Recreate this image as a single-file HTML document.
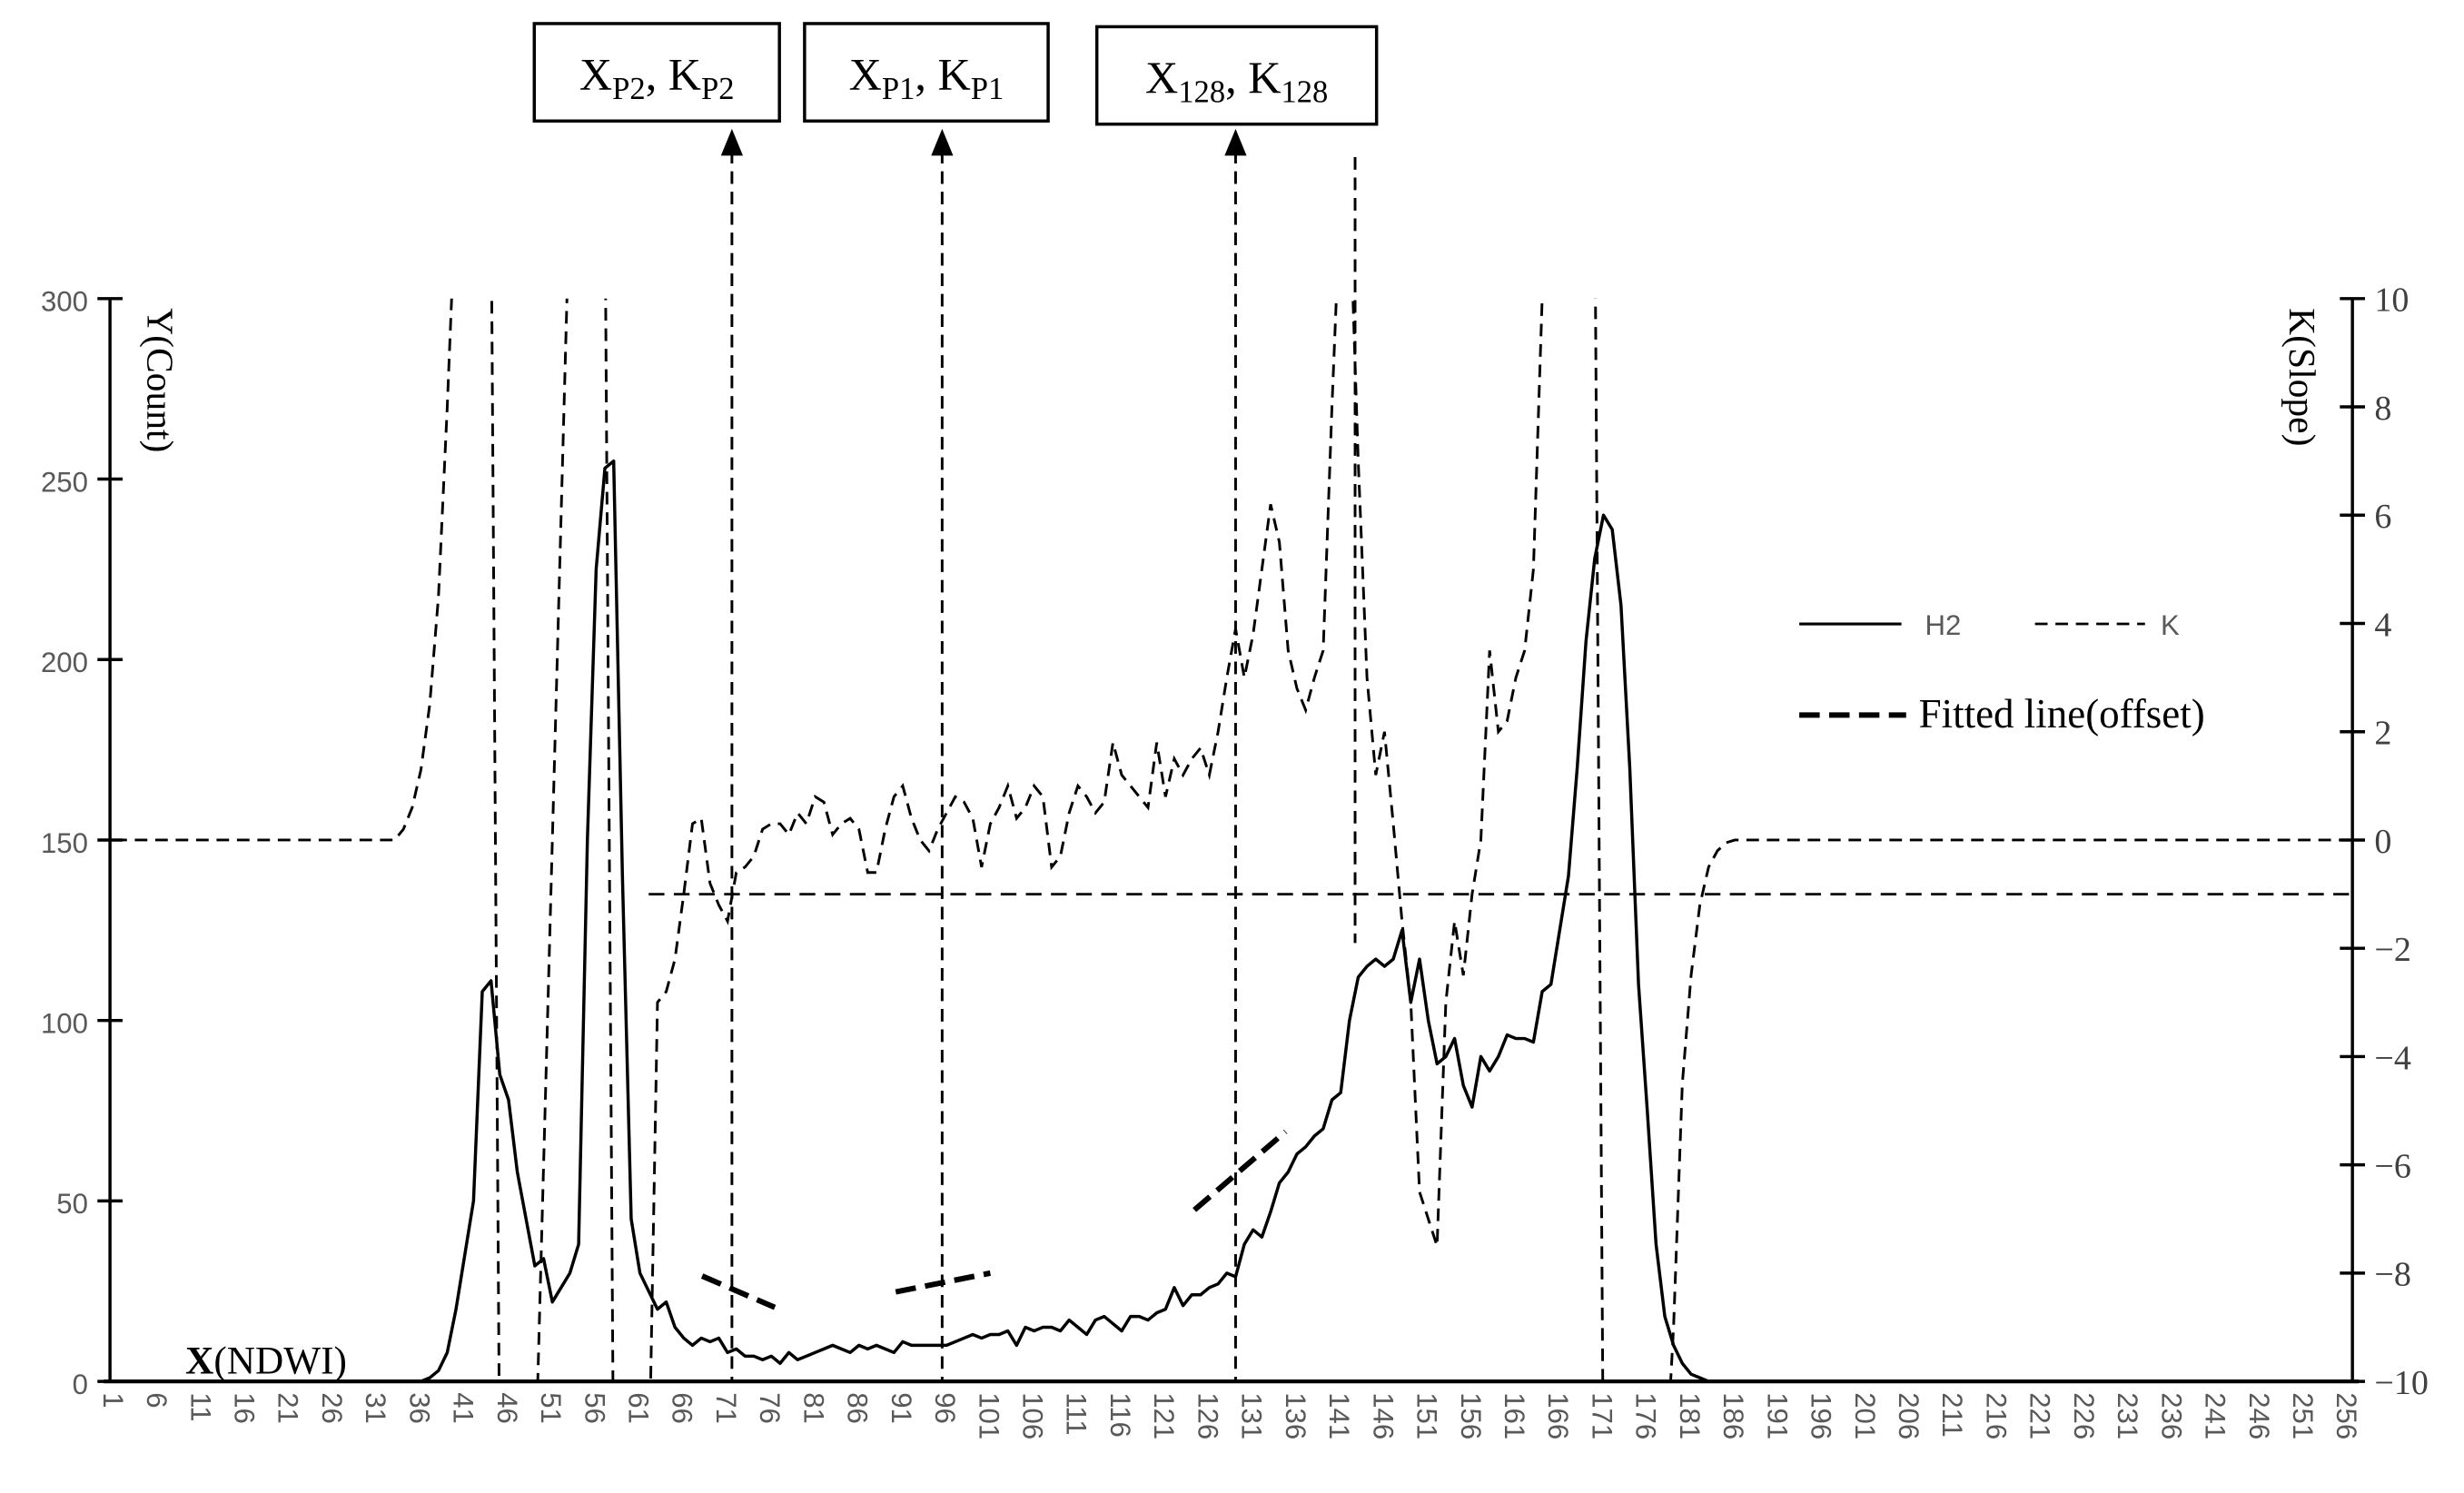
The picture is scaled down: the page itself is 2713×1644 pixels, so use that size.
<!DOCTYPE html>
<html><head><meta charset="utf-8">
<style>
html,body{margin:0;padding:0;background:#fff;}
svg{display:block;}
.tk{font-family:"Liberation Sans",sans-serif;font-size:18px;fill:#595959;}
.tr{font-family:"Liberation Serif",serif;font-size:22px;fill:#404040;}
.sf{font-family:"Liberation Serif",serif;fill:#000;}
</style></head>
<body>
<svg id="chart" width="2713" height="1644" viewBox="0 0 1568 950" preserveAspectRatio="none" xmlns="http://www.w3.org/2000/svg">
<defs><clipPath id="plotclip"><rect x="70" y="190" width="1427" height="689"/></clipPath></defs>
<g id="gAxes"></g>
<g id="gSeries"></g>
<g id="gAnno"></g>
<text class="sf" font-size="24" transform="translate(94,196) rotate(90)">Y(Count)</text>
<text class="sf" font-size="24" transform="translate(1457,196) rotate(90)">K(Slope)</text>
<text class="sf" font-size="25" x="118" y="874"><tspan font-weight="bold">X</tspan>(NDWI)</text>
<g>
<line x1="1145" y1="397" x2="1210" y2="397" stroke="#000" stroke-width="1.8"/>
<text class="tk" x="1225" y="404" font-size="20" fill="#404040">H2</text>
<line x1="1295" y1="397" x2="1365" y2="397" stroke="#000" stroke-width="1.6" stroke-dasharray="8,5"/>
<text class="tk" x="1375" y="404" font-size="20" fill="#404040">K</text>
<line x1="1145" y1="455" x2="1213" y2="455" stroke="#000" stroke-width="3.5" stroke-dasharray="13,6"/>
<text class="sf" x="1221" y="463" font-size="26">Fitted line(offset)</text>
</g>
</svg>
<script>
const NS="http://www.w3.org/2000/svg";
const categories=Array.from({length:256},(_,i)=>i+1);
const h2Values=[0,0,0,0,0,0,0,0,0,0,0,0,0,0,0,0,0,0,0,0,0,0,0,0,0,0,0,0,0,0,0,0,0,0,0,0,
1,3,8,20,35,50,108,111,85,78,58,45,32,34,22,26,30,38,150,225,253,255,140,45,30,25,20,22,15,12,10,12,11,12,
8,9,7,7,6,7,5,8,6,7,8,9,10,9,8,10,9,10,9,8,11,10,10,10,10,10,11,12,13,12,13,13,14,10,15,14,15,15,14,17,
15,13,17,18,16,14,18,18,17,19,20,26,21,24,24,26,27,30,29,38,42,40,47,55,58,63,65,68,70,78,80,100,112,115,117,115,117,125,105,117,
100,88,90,95,82,76,90,86,90,96,95,95,94,108,110,125,140,170,205,228,240,236,215,170,110,75,38,18,10,5,2,1];
while(h2Values.length<256)h2Values.push(0);
const kValues=[0,0,0,0,0,0,0,0,0,0,0,0,0,0,0,0,0,0,0,0,0,0,0,0,0,0,0,0,0,0,0,0,
0,0.2,0.6,1.3,2.5,4.5,8,12,12,12,12,12,-12,-12,-12,-12,-12,-6,0,6,12,12,12,12,12,-12,-12,-12,-12,-12,
-3,-2.8,-2.2,-1,0.3,0.4,-0.8,-1.2,-1.5,-0.6,-0.5,-0.3,0.2,0.3,0.3,0.1,0.5,0.3,0.8,0.7,0.1,0.3,0.4,0.2,-0.6,-0.6,0.2,0.8,1.0,0.4,
0,-0.2,0.2,0.5,0.8,0.7,0.4,-0.5,0.3,0.6,1.0,0.4,0.6,1.0,0.8,-0.5,-0.3,0.5,1.0,0.8,0.5,0.7,1.8,1.2,1.0,0.8,0.6,1.8,0.8,1.5,1.2,1.5,
1.7,1.2,2.0,3.0,3.9,3.0,3.8,5.0,6.2,5.5,3.5,2.8,2.4,3.0,3.5,8,12,12,7,3,1.2,2,0.3,-1.5,-3,-6.5,-7,-7.5,-3,-1.5,
-2.5,-1,0,3.5,2,2.2,3,3.5,5,10,12,12,12,12,12,12,-12,-12,-12,-12,-12,-12,-12,-12,-9,-4.5,-2.5,-1.2,-0.5,-0.2,-0.05];
while(kValues.length<256)kValues.push(0);
const yTicks=[0,50,100,150,200,250,300];
const kTicks=[-10,-8,-6,-4,-2,0,2,4,6,8,10];
const xTickLabels=categories.filter(c=>(c-1)%5===0);
const markerCats=[71.5,95.5,129];
const markerLabels=[["X","P2","K","P2"],["X","P1","K","P1"],["X","128","K","128"]];
const peakMarkerCat=143;
const offsetK=-1;
const fitStart=[[68.1,29.2],[90.2,24.8],[124.3,47.5]];
const fitEnd=[[76.4,20.5],[101,30],[134.7,69.2]];

const L=70,R=1497,T=190,B=879;
const xs=c=>L+(c-0.5)*(R-L)/256;
const ys=v=>B-v*(B-T)/300;
const yk=v=>B-(v+10)*(B-T)/20;
function mk(tag,attrs,parent){const e=document.createElementNS(NS,tag);for(const k in attrs)e.setAttribute(k,attrs[k]);parent.appendChild(e);return e;}
const gA=document.getElementById('gAxes'),gS=document.getElementById('gSeries'),gN=document.getElementById('gAnno');

let e;
e=mk('line',{x1:L,y1:T,x2:L,y2:B,stroke:'#000','stroke-width':2},gA);


e=mk('line',{x1:R,y1:T,x2:R,y2:B,stroke:'#000','stroke-width':2},gA);


e=mk('line',{x1:L-4,y1:B,x2:R+4,y2:B,stroke:'#000','stroke-width':2.4},gA);


yTicks.forEach(v=>{
  e=mk('line',{x1:L-8,y1:ys(v),x2:L+8,y2:ys(v),stroke:'#000','stroke-width':2},gA);
  
  
  e=mk('text',{x:L-14,y:ys(v)+8,'text-anchor':'end',class:'tk','font-size':22},gA);
  
  
  e.textContent=v;
});
kTicks.forEach(v=>{
  e=mk('line',{x1:R-8,y1:yk(v),x2:R+8,y2:yk(v),stroke:'#000','stroke-width':2},gA);
  
  
  e=mk('text',{x:R+14,y:yk(v)+8,class:'tr'},gA);
  
  
  e.textContent=v<0?'\u2212'+(-v):v;
});
xTickLabels.forEach(c=>{
  e=mk('text',{x:xs(c)-7,y:886,class:'tk','font-size':19,transform:`rotate(90 ${xs(c)-7} 886)`},gA);
  
  
  e.textContent=c;
});
e=mk('line',{x1:xs(62),y1:yk(offsetK),x2:R,y2:yk(offsetK),stroke:'#000','stroke-width':1.6,'stroke-dasharray':'10,6'},gS);


e=mk('polyline',{points:kValues.map((v,i)=>xs(categories[i])+','+yk(v)).join(' '),fill:'none',stroke:'#000','stroke-width':1.7,'stroke-dasharray':'8,5','clip-path':'url(#plotclip)'},gS);


e=mk('polyline',{points:h2Values.map((v,i)=>xs(categories[i])+','+ys(v)).join(' '),fill:'none',stroke:'#000','stroke-width':2,'stroke-linejoin':'round'},gS);


fitStart.forEach((s,i)=>{
  const f=fitEnd[i];
  e=mk('line',{x1:xs(s[0]),y1:ys(s[1]),x2:xs(f[0]),y2:ys(f[1]),stroke:'#000','stroke-width':3.5,'stroke-dasharray':'13,6'},gS);
  
  
});
e=mk('line',{x1:xs(peakMarkerCat)-2,y1:100,x2:xs(peakMarkerCat)-2,y2:600,stroke:'#000','stroke-width':1.7,'stroke-dasharray':'8,5'},gN);


const boxes=[[340,15,156,62],[512,15,155,62],[698,17,178,62]];
markerCats.forEach((c,i)=>{
  const x=xs(c);
  e=mk('line',{x1:x,y1:96,x2:x,y2:B,stroke:'#000','stroke-width':1.7,'stroke-dasharray':'8,5'},gN);
  
  
  e=mk('polygon',{points:`${x},82 ${x-7},99 ${x+7},99`,fill:'#000'},gN);
  
  
  const b=boxes[i];
  e=mk('rect',{x:b[0],y:b[1],width:b[2],height:b[3],fill:'#fff',stroke:'#000','stroke-width':2},gN);
  
  
  const t=markerLabels[i];
  e=mk('text',{x:b[0]+b[2]/2,y:b[1]+42,'text-anchor':'middle',class:'sf','font-size':29},gN);
  
  
  e.innerHTML=`${t[0]}<tspan font-size="20" dy="6">${t[1]}</tspan><tspan dy="-6">, ${t[2]}</tspan><tspan font-size="20" dy="6">${t[3]}</tspan>`;
});
</script>
</body></html>
